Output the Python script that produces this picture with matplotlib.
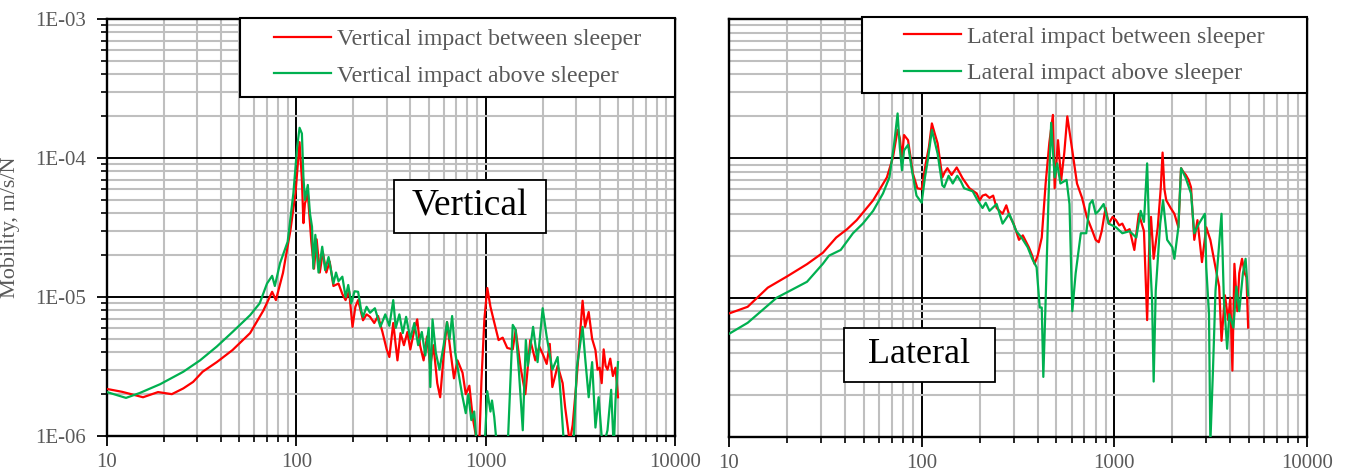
import numpy as np
import matplotlib
matplotlib.use("Agg")
import matplotlib.pyplot as plt
from matplotlib.ticker import LogLocator, NullFormatter, FixedLocator
from matplotlib.patches import Rectangle

plt.rcParams['font.family'] = ['Liberation Serif', 'DejaVu Serif']

# ---------------- data ----------------
v_between_f = [10, 12, 15.5, 18.6, 22, 25.3, 28.5, 32, 38, 46, 57, 67, 74.5, 78, 85, 93, 99, 104,
               107, 109, 111, 115, 120, 124, 128, 133, 138, 144, 150, 157, 167, 175, 182, 190, 198,
               205, 212, 225, 235, 245, 258, 270, 285, 300, 310, 325, 342, 355, 370, 386, 400, 420,
               435, 450, 470, 490, 510, 530, 555, 575, 600, 625, 650, 680, 710, 755, 785, 820, 855,
               900, 920, 950, 985, 1020, 1060, 1100, 1170, 1230, 1300, 1390, 1440, 1530, 1620, 1720,
               1830, 1920, 2000, 2100, 2180, 2250, 2400, 2550, 2630, 2780, 2880, 3000, 3120, 3250,
               3350, 3500, 3650, 3800, 3900, 4000, 4100, 4200, 4300, 4400, 4550, 4700, 4850, 5000]
v_between_m = [2.18e-6, 2.08e-6, 1.9e-6, 2.07e-6, 2.0e-6, 2.2e-6, 2.45e-6, 2.9e-6, 3.4e-6, 4.15e-6,
               5.5e-6, 8e-6, 1.09e-5, 9.5e-6, 1.49e-5, 3e-5, 5.6e-5, 1.3e-4,
               7e-5, 3.4e-5, 4.7e-5, 5.5e-5, 2.5e-5, 1.6e-5, 2.6e-5, 1.5e-5, 2.1e-5, 1.5e-5, 1.8e-5,
               1.2e-5, 1.25e-5, 1.05e-5, 9.5e-6, 1.1e-5, 6.1e-6,
               8.5e-6, 9.5e-6, 6.8e-6, 7.5e-6, 7.2e-6, 6.5e-6, 7.3e-6, 5.6e-6, 4.2e-6, 3.7e-6, 6.5e-6,
               3.5e-6, 5.5e-6, 4.5e-6, 5.6e-6, 4.2e-6, 5.8e-6,
               6.9e-6, 4.5e-6, 3.5e-6, 5.2e-6, 3.2e-6, 4.5e-6, 2.4e-6, 1.9e-6, 3.8e-6, 6.6e-6, 4.2e-6,
               2.6e-6, 3.5e-6, 2.85e-6, 2.0e-6, 2.3e-6, 1.35e-6,
               9e-7, 7e-7, 2.5e-6, 7e-6, 1.16e-5, 8.5e-6, 6.9e-6, 4.9e-6, 5.1e-6, 4.3e-6, 4.2e-6,
               5.8e-6, 3.1e-6, 2.0e-6, 4.9e-6,
               3.5e-6, 4.4e-6, 3.9e-6, 3.3e-6, 4.6e-6, 2.25e-6, 3.2e-6, 2.4e-6, 1.6e-6, 9e-7, 1.2e-6,
               2.25e-6, 4.5e-6, 9.4e-6,
               6.1e-6, 7.8e-6, 5.0e-6, 4.15e-6, 3.0e-6, 3.1e-6, 2.4e-6, 4.2e-6, 3.2e-6, 3.0e-6, 3.6e-6,
               2.7e-6, 3.1e-6, 1.9e-6]

v_above_f = [10, 12.6, 14.9, 19.1, 25.3, 31, 38, 46, 57, 64, 70, 74.5, 77, 82, 90, 96.5, 101, 104,
             107, 109, 111, 115, 118, 121, 123, 126, 131, 137, 142, 148, 157, 162, 167, 175, 182,
             188, 195, 203, 212, 220, 225, 235, 245, 260, 278, 295, 310, 325, 335, 350, 365, 380,
             400, 420, 440, 460, 480, 500, 510, 524, 545, 570, 600, 625, 645, 665, 690, 720, 750,
             785, 810, 840, 870, 900, 950, 990, 1020, 1060, 1080, 1110, 1160, 1300, 1390, 1440,
             1500, 1570, 1630, 1670, 1780, 1880, 2000, 2100, 2250, 2400, 2500, 2600, 2900, 3030,
             3250, 3350, 3500, 3650, 3800, 3950, 4150, 4400, 4600, 4750, 4850, 5000]
v_above_m = [2.07e-6, 1.88e-6, 2.04e-6, 2.36e-6, 2.9e-6, 3.5e-6, 4.4e-6, 5.6e-6, 7.4e-6, 9e-6,
             1.25e-5, 1.42e-5, 1.2e-5, 1.75e-5, 2.5e-5, 5.6e-5, 1.2e-4, 1.65e-4,
             1.5e-4, 7.3e-5, 5e-5, 6.4e-5, 4e-5, 3.2e-5, 1.6e-5, 2.8e-5, 1.5e-5, 2.3e-5, 1.56e-5,
             1.94e-5, 1.25e-5, 1.5e-5, 1.3e-5, 1.4e-5, 1.0e-5,
             1.22e-5, 9e-6, 1.1e-5, 1.09e-5, 8e-6, 7.2e-6, 8.5e-6, 7.7e-6, 8.3e-6, 6.1e-6, 7.5e-6,
             6.2e-6, 9.5e-6, 6.0e-6, 7.5e-6, 5.5e-6, 7.2e-6,
             5.0e-6, 6.5e-6, 4.5e-6, 5.6e-6, 3.8e-6, 6.0e-6, 2.25e-6, 6.9e-6, 4.0e-6, 3.0e-6, 4.5e-6,
             6.6e-6, 5.0e-6, 7.3e-6, 4.0e-6, 2.8e-6, 2.0e-6,
             1.46e-6, 2.0e-6, 1.3e-6, 1.5e-6, 8e-7, 7e-7, 9e-7, 2.1e-6, 1.5e-6, 1.8e-6, 1.37e-6,
             7e-7, 7e-7, 6.3e-6, 5.8e-6,
             2.85e-6, 1.1e-6, 4.9e-6, 3.2e-6, 6.1e-6, 3.4e-6, 8.3e-6, 5.2e-6, 3.0e-6, 3.7e-6, 1.8e-6,
             8e-7, 8e-7, 3.1e-6,
             6.1e-6, 3.7e-6, 1.9e-6, 3.4e-6, 1.15e-6, 1.9e-6, 8e-7, 1.1e-6, 2.15e-6, 8e-7, 1.8e-6,
             3.4e-6]

l_between_f = [10, 12.5, 15.9, 20, 25.4, 30.7, 36, 41, 46, 56, 66, 71, 75, 77, 79, 81, 85, 90, 95,
               100, 105, 109, 113, 117, 121, 128, 132, 136, 143, 152, 158, 163, 177, 193, 200, 207,
               215, 225, 235, 245, 263, 275, 285, 300, 320, 335, 360, 375, 385, 400, 420, 440, 460,
               480, 490, 510, 530, 550, 570, 605, 640, 680, 720, 770, 800, 830, 860, 900, 935, 980,
               1020, 1060, 1100, 1150, 1200, 1270, 1340, 1425, 1480, 1520, 1550, 1600, 1680, 1740,
               1780, 1820, 1860, 1960, 2050, 2150, 2220, 2280, 2350, 2430, 2500, 2600, 2700, 2850,
               3000, 3150, 3350, 3500, 3600, 3750, 3900, 4000, 4100, 4200, 4350, 4450, 4600, 4750,
               4850, 4950]
l_between_m = [7.7e-6, 8.6e-6, 1.18e-5, 1.42e-5, 1.74e-5, 2.1e-5, 2.7e-5, 3.1e-5, 3.6e-5, 5e-5,
               7.3e-5, 1.02e-4, 1.6e-4, 1.4e-4, 1.0e-4, 1.47e-4, 1.35e-4, 7.8e-5, 6.1e-5,
               6.0e-5, 9.2e-5, 1.2e-4, 1.78e-4, 1.5e-4, 1.28e-4, 7.3e-5, 8.0e-5, 8.5e-5, 7.6e-5,
               8.6e-5, 7.8e-5, 7.2e-5, 6.1e-5, 5.6e-5, 5.0e-5, 5.4e-5,
               5.5e-5, 5.2e-5, 5.4e-5, 4.4e-5, 4.0e-5, 4.6e-5, 3.9e-5, 3.4e-5, 2.6e-5, 2.8e-5, 2.3e-5,
               2.0e-5, 1.75e-5, 2.0e-5, 2.7e-5, 6.6e-5, 1.3e-4,
               2.05e-4, 6.1e-5, 1.35e-4, 7e-5, 1.1e-4, 2.0e-4, 1.14e-4, 6.6e-5, 5.2e-5, 3.8e-5,
               3.0e-5, 2.6e-5, 2.5e-5, 3.0e-5, 4.4e-5, 3.4e-5, 3.8e-5,
               3.6e-5, 3.3e-5, 3.4e-5, 3.0e-5, 3.1e-5, 2.2e-5, 4.0e-5, 3.0e-5, 6.9e-6, 2.5e-5, 3.8e-5,
               1.9e-5, 3.2e-5, 6e-5,
               1.1e-4, 6e-5, 5.0e-5, 4.4e-5, 4.0e-5, 3.2e-5, 8.5e-5, 8.0e-5, 7.6e-5, 7e-5, 6.2e-5,
               2.6e-5, 3.6e-5, 1.8e-5,
               3.2e-5, 2.6e-5, 1.65e-5, 1.2e-5, 4.9e-6, 1.04e-5, 6.9e-6, 1.0e-5, 3.0e-6, 1.75e-5,
               8.0e-6, 1.5e-5, 1.9e-5, 1.5e-5,
               1.4e-5, 6.1e-6]

l_above_f = [10, 12.5, 17.7, 20.7, 25.4, 30.7, 33, 38, 44, 49.5, 56, 63, 68, 72, 75, 77, 79, 81, 85,
             89, 94, 100, 104, 108, 113, 121, 128, 131, 138, 145, 153, 160, 166, 184, 195, 207, 215,
             225, 245, 263, 285, 310, 330, 355, 375, 395, 410, 420, 428, 440, 455, 470, 490, 505,
             525, 565, 585, 605, 630, 670, 715, 745, 770, 800, 830, 880, 935, 1020, 1100, 1200,
             1300, 1370, 1425, 1480, 1530, 1570, 1600, 1640, 1730, 1790, 1880, 2000, 2050, 2150,
             2220, 2350, 2500, 2600, 2750, 2950, 3000, 3100, 3150, 3250, 3350, 3600, 3700, 3850,
             3950, 4150, 4300, 4450, 4650, 4800, 4950]
l_above_m = [5.5e-6, 6.6e-6, 1.0e-5, 1.12e-5, 1.3e-5, 1.75e-5, 2.0e-5, 2.2e-5, 2.9e-5, 3.4e-5,
             4.2e-5, 5.6e-5, 7.3e-5, 1.28e-4, 2.1e-4, 1.2e-4, 8.2e-5, 1.14e-4, 1.25e-4,
             8.2e-5, 5.4e-5, 4.8e-5, 7.3e-5, 1.0e-4, 1.6e-4, 1.08e-4, 6.4e-5, 6.2e-5, 7.5e-5,
             6.6e-5, 7.5e-5, 6.8e-5, 6.1e-5, 5.8e-5, 5.0e-5, 4.4e-5, 4.8e-5,
             4.2e-5, 4.7e-5, 3.4e-5, 4.0e-5, 3.0e-5, 2.7e-5, 2.3e-5, 1.9e-5, 1.65e-5, 8.5e-6, 8.5e-6,
             2.7e-6, 9.5e-6, 5.0e-5, 1.8e-4, 7.3e-5, 9.2e-5,
             6.6e-5, 7.0e-5, 4.7e-5, 8.0e-6, 1.5e-5, 2.9e-5, 2.9e-5, 4.7e-5, 5.0e-5, 4.0e-5, 4.2e-5,
             4.7e-5, 3.4e-5, 3.2e-5, 2.9e-5, 3.0e-5,
             2.7e-5, 4.2e-5, 3.5e-5, 9.2e-5, 2.0e-5, 9.5e-6, 2.5e-6, 1.12e-5, 3.4e-5, 5.0e-5,
             2.6e-5, 2.3e-5, 1.9e-5, 3.2e-5,
             8.5e-5, 7.2e-5, 5.6e-5, 2.9e-5, 3.4e-5, 4.0e-5, 1.65e-5, 7.6e-6, 9e-7, 3e-6, 1.12e-5,
             4.0e-5, 1.0e-5, 4.3e-6,
             7.6e-6, 6.1e-6, 1.2e-5, 8.0e-6, 1.5e-5, 1.9e-5, 1.04e-5]

x_ticks = [10, 100, 1000, 10000]
x_tick_labels = ["10", "100", "1000", "10000"]
y_ticks = [1e-6, 1e-5, 1e-4, 1e-3]
y_tick_labels = ["1E-06", "1E-05", "1E-04", "1E-03"]

left_labels = ["Vertical impact between sleeper", "Vertical impact above sleeper"]
right_labels = ["Lateral impact between sleeper", "Lateral impact above sleeper"]
ylabel = "Mobility, m/s/N"

RED = "#ff0000"
GREEN = "#00b050"
GRAY_TXT = "#595959"

# ---------------- figure ----------------
W, H = 1348, 471
fig = plt.figure(figsize=(W / 100, H / 100), dpi=100)
axL = fig.add_axes([107 / W, 1 - 436 / H, (675 - 107) / W, (436 - 19) / H])
axR = fig.add_axes([729 / W, 1 - 437 / H, (1307 - 729) / W, (437 - 19) / H])


def style(ax, show_y):
    ax.set_xscale('log')
    ax.set_yscale('log')
    ax.set_xlim(10, 10000)
    ax.set_ylim(1e-6, 1e-3)
    ax.set_axisbelow(True)
    ax.xaxis.set_major_locator(FixedLocator(x_ticks))
    ax.set_xticklabels(x_tick_labels)
    ax.xaxis.set_minor_locator(LogLocator(base=10, subs=np.arange(2, 10)))
    ax.xaxis.set_minor_formatter(NullFormatter())
    ax.yaxis.set_major_locator(FixedLocator(y_ticks))
    ax.yaxis.set_minor_locator(LogLocator(base=10, subs=np.arange(2, 10)))
    ax.yaxis.set_minor_formatter(NullFormatter())
    ax.grid(which='minor', color='#bfbfbf', lw=1.5)
    ax.grid(which='major', color='black', lw=1.4)
    for s in ax.spines.values():
        s.set_linewidth(1.7)
        s.set_color('black')
    ax.tick_params(axis='x', which='major', length=7, width=1.3, direction='out',
                   labelsize=15, labelcolor=GRAY_TXT, pad=5)
    ax.tick_params(axis='x', which='minor', length=4, width=1.2, direction='out')
    if show_y:
        ax.set_yticklabels(y_tick_labels)
        ax.tick_params(axis='y', which='major', length=7, width=1.3, direction='out',
                       labelsize=15, labelcolor=GRAY_TXT, pad=8)
        ax.tick_params(axis='y', which='minor', length=4, width=1.2, direction='out')
    else:
        ax.tick_params(axis='y', which='both', length=0, labelleft=False)


def legend_box(ax, x0, y0, x1, y1, handles, labels):
    ax.add_patch(Rectangle((x0, y0), x1 - x0, y1 - y0, transform=ax.transAxes,
                           facecolor='white', edgecolor='black', lw=1.5, zorder=4,
                           clip_on=False))
    leg = ax.legend(handles, labels, loc='center', bbox_to_anchor=((x0 + x1) / 2, (y0 + y1) / 2),
                    bbox_transform=ax.transAxes, frameon=False, fontsize=17.2,
                    handlelength=2.4, handletextpad=0.25, labelspacing=0.62, borderpad=0)
    for t in leg.get_texts():
        t.set_color(GRAY_TXT)
    leg.set_zorder(5)


def label_box(ax, x0, y0, x1, y1, text, size):
    ax.add_patch(Rectangle((x0, y0), x1 - x0, y1 - y0, transform=ax.transAxes,
                           facecolor='white', edgecolor='black', lw=1.3, zorder=4))
    ax.text((x0 + x1) / 2, (y0 + y1) / 2, text, transform=ax.transAxes, ha='center',
            va='center', fontsize=size, color='black', zorder=5)


# left panel
style(axL, True)
l1, = axL.plot(v_between_f, v_between_m, color=RED, lw=1.6, zorder=3)
l2, = axL.plot(v_above_f, v_above_m, color=GREEN, lw=1.6, zorder=3)
axL.set_ylabel(ylabel, fontsize=16, color=GRAY_TXT)
axL.yaxis.set_label_coords(-0.153, 0.5)
legend_box(axL, 0.234, 0.813, 1.0, 1.002, [l1, l2], left_labels)
label_box(axL, 0.505, 0.487, 0.773, 0.614, "Vertical", 27)

# right panel
style(axR, False)
r1, = axR.plot(l_between_f, l_between_m, color=RED, lw=1.6, zorder=3)
r2, = axR.plot(l_above_f, l_above_m, color=GREEN, lw=1.6, zorder=3)
legend_box(axR, 0.230, 0.823, 1.0, 1.005, [r1, r2], right_labels)
label_box(axR, 0.199, 0.132, 0.460, 0.261, "Lateral", 26)

fig.savefig("out.png", dpi=100)
